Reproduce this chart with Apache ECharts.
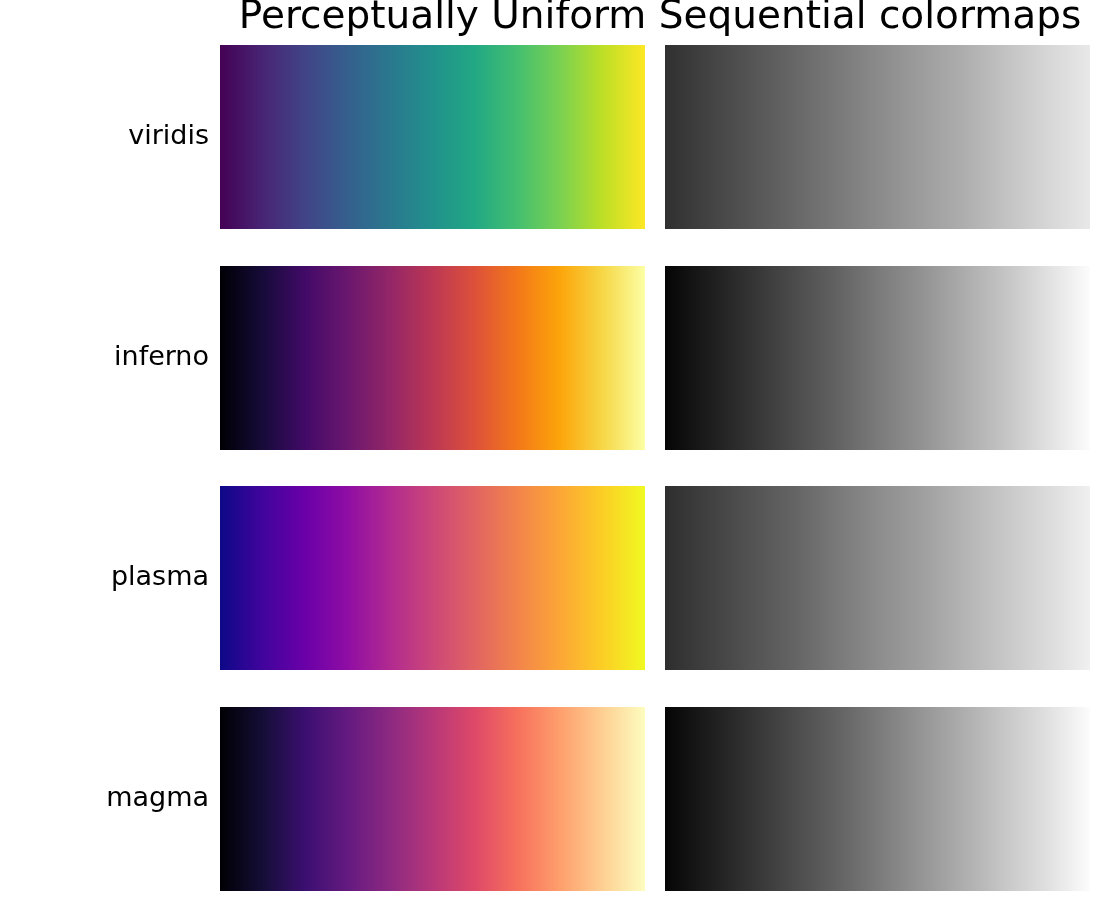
<!DOCTYPE html>
<html>
<head>
<meta charset="utf-8">
<script src="https://cdn.jsdelivr.net/npm/echarts@6/dist/echarts.min.js"></script>
<style>html,body{margin:0;padding:0;background:#fff}#c{width:1100px;height:900px}</style>
</head>
<body>
<div id="c"></div>
<script>
// ---- data ----
const titleText = 'Perceptually Uniform Sequential colormaps';
const cmapNames = ['viridis', 'inferno', 'plasma', 'magma'];
// colormap colours sampled at 11 evenly spaced points (0 .. 1)
const viridisColors = ['#440154','#482475','#414487','#355f8d','#2a788e','#21918c','#22a884','#44bf70','#7ad151','#bddf26','#fde725'];
const infernoColors = ['#000004','#160b39','#420a68','#6a176e','#932667','#bc3754','#dd513a','#f37819','#fca50a','#f6d746','#fcffa4'];
const plasmaColors  = ['#0d0887','#41049d','#6a00a8','#8f0da4','#b12a90','#cc4778','#e16462','#f2844b','#fca636','#fcce25','#f0f921'];
const magmaColors   = ['#000004','#140e36','#3b0f70','#641a80','#8c2981','#b73779','#de4968','#f7705c','#fe9f6d','#fecf92','#fcfdbf'];
// lightness (0..100) of each colormap at the same 11 points
const viridisLight = [19, 26, 33, 40, 47, 54, 61, 68, 76, 84, 91];
const infernoLight = [2, 11, 20, 29, 38, 48, 57, 67, 77, 88, 99];
const plasmaLight  = [18, 25, 32, 39, 47, 55, 62, 70, 78, 86, 94];
const magmaLight   = [2, 11, 20, 29, 38, 48, 58, 68, 78, 88, 99];

const colorLists = [viridisColors, infernoColors, plasmaColors, magmaColors];
const lightLists = [viridisLight, infernoLight, plasmaLight, magmaLight];

// ---- chart ----
const chart = echarts.init(document.getElementById('c'), null, {renderer: 'canvas'});
const rowTops = [45, 266, 486, 707];
const rowH = 184;
const grids = [], xAxes = [], yAxes = [], series = [];

function grad(colors) {
  return new echarts.graphic.LinearGradient(0, 0, 1, 0,
    colors.map((c, i) => ({offset: i / (colors.length - 1), color: c})));
}
function grayOf(L) {
  const v = Math.round(Math.max(0, Math.min(100, L)) / 100 * 255);
  return 'rgb(' + v + ',' + v + ',' + v + ')';
}

cmapNames.forEach((name, r) => {
  [0, 1].forEach(col => {
    const idx = grids.length;
    grids.push({left: col === 0 ? 220 : 665, width: 425, top: rowTops[r], height: rowH});
    xAxes.push({gridIndex: idx, type: 'value', min: 0, max: 1, show: false});
    yAxes.push({
      gridIndex: idx, type: 'category', data: [name], show: col === 0,
      axisLine: {show: false}, axisTick: {show: false}, splitLine: {show: false},
      axisLabel: {show: col === 0, fontSize: 27, color: '#000', margin: 11, fontFamily: 'DejaVu Sans'}
    });
    const colors = col === 0 ? colorLists[r] : lightLists[r].map(grayOf);
    series.push({
      type: 'bar', xAxisIndex: idx, yAxisIndex: idx,
      data: [1], barWidth: '100%', silent: true,
      itemStyle: {color: grad(colors)}
    });
  });
});

chart.setOption({
  animation: false,
  backgroundColor: '#fff',
  grid: grids, xAxis: xAxes, yAxis: yAxes, series: series,
  graphic: [{
    type: 'text', x: 660, y: 18,
    style: {text: titleText, fontSize: 39, fill: '#000',
      fontFamily: 'DejaVu Sans', align: 'center', verticalAlign: 'middle'}
  }]
});
</script>
</body>
</html>
